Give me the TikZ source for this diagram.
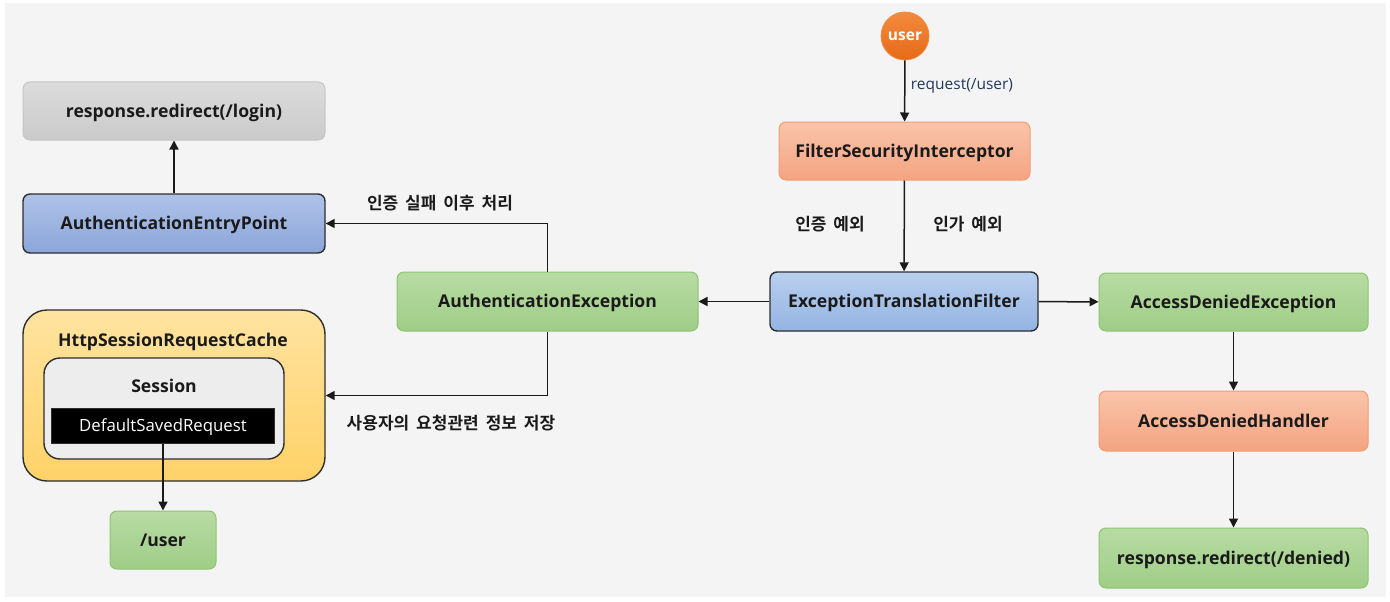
\documentclass[tikz,border=0pt]{standalone}
\usepackage{fontspec}
\setmainfont{Open Sans}
\newfontfamily\kr{Noto Sans CJK KR}[BoldFont={Noto Sans CJK KR Bold}, WordSpace=1.8]
\usetikzlibrary{arrows.meta}
\definecolor{bg}{HTML}{F4F4F4}
\definecolor{txt}{HTML}{1A1A1A}
\definecolor{dark}{HTML}{2E2E2E}
\definecolor{graytop}{HTML}{DCDCDC}
\definecolor{graybot}{HTML}{CACACA}
\definecolor{graybord}{HTML}{C6C6C6}
\definecolor{bluetop}{HTML}{AFC2E8}
\definecolor{bluebot}{HTML}{8CA6DA}
\definecolor{lbluetop}{HTML}{B9CFEE}
\definecolor{lbluebot}{HTML}{93B4E2}
\definecolor{gtop}{HTML}{B8DBA4}
\definecolor{gbot}{HTML}{9FCD86}
\definecolor{gbord}{HTML}{8DC46F}
\definecolor{stop}{HTML}{FAC4AA}
\definecolor{sbot}{HTML}{F4A481}
\definecolor{sbord}{HTML}{F09E73}
\definecolor{otop}{HTML}{F48A3E}
\definecolor{obot}{HTML}{E56A17}
\definecolor{ytop}{HTML}{FFE3A0}
\definecolor{ybot}{HTML}{FFD268}
\definecolor{sess}{HTML}{EDEDED}
\definecolor{reqtxt}{HTML}{22395A}
\begin{document}
\begin{tikzpicture}[x=1pt,y=-1pt,
  boxfont/.style={font=\bfseries\fontsize{17.6}{20}\selectfont, text=txt},
  box/.style={rounded corners=7pt, draw, line width=1pt, align=center,
    boxfont, inner sep=0pt, text height=12.6pt, text depth=0pt},
  graybox/.style={box, draw=graybord, top color=graytop, bottom color=graybot},
  bluebox/.style={box, draw=dark, line width=1.4pt, top color=bluetop, bottom color=bluebot},
  lbluebox/.style={box, draw=dark, line width=1.4pt, top color=lbluetop, bottom color=lbluebot},
  greenbox/.style={box, draw=gbord, top color=gtop, bottom color=gbot},
  salmonbox/.style={box, draw=sbord, top color=stop, bottom color=sbot},
  krlabel/.style={font=\kr\bfseries\fontsize{17}{19}\selectfont, text=txt, inner sep=0pt},
  arr/.style={draw=txt, line width=1.5pt, -{Triangle[length=9pt,width=9pt]}}]
\useasboundingbox (0,0) rectangle (1390,602);
\fill[white] (0,0) rectangle (1390,602);
\fill[bg] (5,3) rectangle (1386,597);

% left column
\node[graybox, minimum width=302pt, minimum height=58pt] (login) at (174,111) {response.redirect(/login)};
\node[bluebox, minimum width=302pt, minimum height=59pt] (aep) at (174,223.5) {AuthenticationEntryPoint};
\node[draw=dark, line width=1.4pt, rounded corners=24pt, top color=ytop, bottom color=ybot,
      minimum width=302pt, minimum height=171pt, inner sep=0pt] (hsrc) at (174,395.5) {};
\node[boxfont, inner sep=0pt, text height=12.6pt, text depth=0pt] (hsrclbl) at (173,340) {HttpSessionRequestCache};
\node[draw=dark, line width=1.4pt, rounded corners=16pt, fill=sess,
      minimum width=240pt, minimum height=101pt, inner sep=0pt] (session) at (164,408.5) {};
\node[boxfont, inner sep=0pt, text height=12.6pt, text depth=0pt] (sesslbl) at (164,386) {Session};
\node[draw=dark, line width=1pt, fill=black, text=white, font=\fontsize{16.8}{19}\selectfont,
      minimum width=223pt, minimum height=35pt, inner sep=0pt, text height=12pt, text depth=0pt] (dsr) at (163,425.5) {DefaultSavedRequest};
\node[greenbox, minimum width=106pt, minimum height=58pt] (uuser) at (163,540) {/user};

% middle
\node[greenbox, minimum width=301pt, minimum height=59pt] (ae) at (547.5,301.5) {AuthenticationException};
\node[lbluebox, minimum width=268pt, minimum height=59pt] (etf) at (904,301.5) {ExceptionTranslationFilter};
\node[salmonbox, minimum width=251pt, minimum height=58pt] (fsi) at (904.5,151) {FilterSecurityInterceptor};
\node[circle, draw=otop, line width=0.8pt, top color=otop, bottom color=obot, minimum size=48pt, inner sep=0pt,
      text=white, font=\bfseries\fontsize{15.5}{17}\selectfont] (user) at (905,36) {user};

% right column
\node[greenbox, minimum width=269pt, minimum height=58pt] (ade) at (1233.5,302) {AccessDeniedException};
\node[salmonbox, minimum width=269pt, minimum height=60pt] (adh) at (1233.5,421) {AccessDeniedHandler};
\node[greenbox, minimum width=269pt, minimum height=60pt] (denied) at (1233.5,558) {response.redirect(/denied)};

% labels
\node[font=\fontsize{15.5}{18}\selectfont, text=reqtxt, inner sep=0pt] (reqlbl) at (962,86) {request(/user)};
\node[krlabel] (authex) at (830,224) {인증 예외};
\node[krlabel] (authzex) at (968,224) {인가 예외};
\node[krlabel] (faillbl) at (440,203) {인증 실패 이후 처리};
\node[krlabel] (savelbl) at (451,423) {사용자의 요청관련 정보 저장};

% connectors
\draw[arr] (user) -- (fsi);
\draw[arr] (fsi) -- (etf);
\draw[arr] (etf) -- (ae);
\draw[arr] (etf) -- (ade);
\draw[arr] (ae.north) |- (aep.east);
\draw[arr] (ae.south) |- (hsrc.east);
\draw[arr] (aep) -- (login);
\draw[arr] (ade) -- (adh);
\draw[arr] (adh) -- (denied);
\draw[arr] (dsr) -- (uuser);
\end{tikzpicture}
\end{document}
